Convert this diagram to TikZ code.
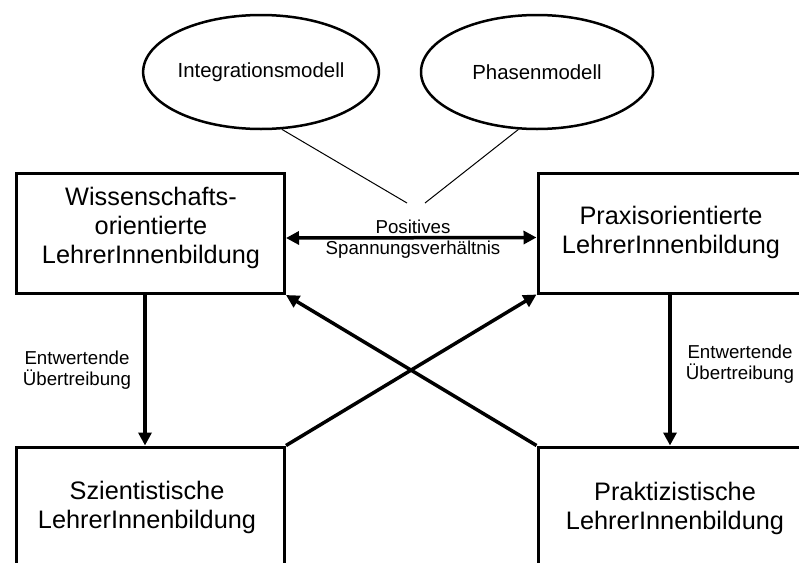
\documentclass[tikz,border=0pt]{standalone}
\usepackage{fontspec}
\setmainfont{Liberation Sans}
\usetikzlibrary{shapes.geometric,arrows.meta}
\begin{document}
\begin{tikzpicture}[x=1pt,y=-1pt,
  boxshape/.style={draw,line width=3pt,inner sep=0pt},
  boxtext/.style={align=center,inner sep=0pt,font=\fontsize{25.3}{29}\selectfont},
  ell/.style={draw,ellipse,line width=2.5pt,inner sep=0pt,minimum width=232pt,minimum height=114pt,font=\fontsize{20.4}{24}\selectfont},
  smalltext/.style={align=center,inner sep=0pt,font=\fontsize{18.7}{21}\selectfont},
  arr/.style={line width=3.5pt,-{Triangle[length=13pt,width=13pt]}},
  darr/.style={line width=3.5pt,{Triangle[length=13pt,width=13pt]}-{Triangle[length=13pt,width=13pt]}},
  thin/.style={line width=1pt}]
\clip (0,0) rectangle (799,562);
\fill[white] (0,0) rectangle (799,562);
% ellipses
\node[ell] (e1) at (261,72) {Integrationsmodell};
\node[ell] (e2) at (537,72) {Phasenmodell};
% boxes
\node[boxshape,minimum width=268pt,minimum height=120pt] (b1) at (150.5,233.5) {};
\node[boxshape,minimum width=268pt,minimum height=120pt] (b2) at (672,233) {};
\node[boxshape,minimum width=268pt,minimum height=160pt] (sz) at (150.5,527) {};
\node[boxshape,minimum width=268pt,minimum height=160pt] (pk) at (672,527) {};
% box texts
\node[boxtext] (t1) at (151,227.5) {Wissenschafts-\\orientierte\\LehrerInnenbildung};
\node[boxtext] (t2) at (671,232) {Praxisorientierte\\LehrerInnenbildung};
\node[boxtext] (t3) at (147,507.5) {Szientistische\\LehrerInnenbildung};
\node[boxtext] (t4) at (675,508.5) {Praktizistische\\LehrerInnenbildung};
% thin lines from ellipses
\coordinate (c1) at (407,203);
\coordinate (c2) at (425,203);
\draw[thin] (e1.-70) -- (c1);
\draw[thin] (e2.-108) -- (c2);
% double arrow
\draw[darr] ([yshift=-4.5pt]b1.east) -- ([yshift=-4.5pt]b2.west);
\node[smalltext] (pos) at (413,239) {Positives\\Spannungsverh\"altnis};
% vertical arrows
\draw[arr] ([xshift=-5.5pt]b1.south) -- ([xshift=-5.5pt]sz.north);
\draw[arr] ([xshift=-2pt]b2.south) -- ([xshift=-2pt]pk.north);
\node[smalltext] (l1) at (77,370) {Entwertende\\\"Ubertreibung};
\node[smalltext] (l2) at (740,364) {Entwertende\\\"Ubertreibung};
% cross arrows
\draw[arr] (sz.north east) -- (b2.south west);
\draw[arr] (pk.north west) -- (b1.south east);
\end{tikzpicture}
\end{document}
